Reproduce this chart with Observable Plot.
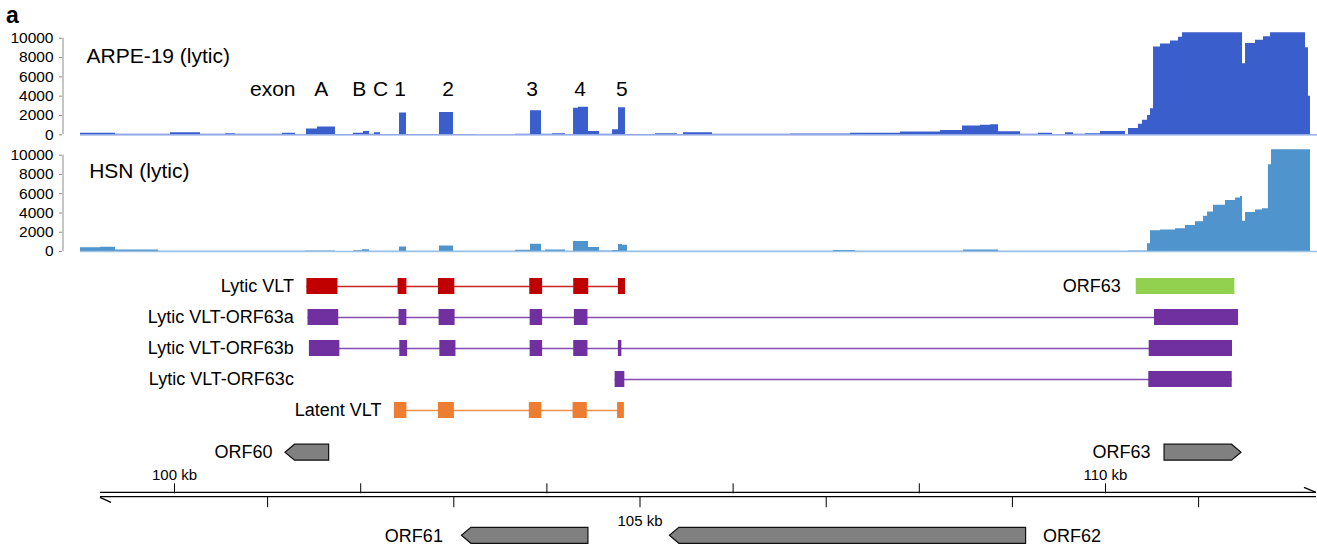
<!DOCTYPE html>
<html>
<head>
<meta charset="utf-8">
<script src="https://cdn.jsdelivr.net/npm/d3@7"></script>
<script src="https://cdn.jsdelivr.net/npm/@observablehq/plot@0.6"></script>
<style>
  body { margin: 0; background: #fff; }
  #root { position: relative; width: 1317px; height: 550px; overflow: hidden;
          font-family: "Liberation Sans", Arial, sans-serif; color: #000; }
  #root > svg, #root > div { position: absolute; left: 0; }
  #panel { top: 2px; left: 6px !important; font-size: 23px; font-weight: bold; line-height: 26px; z-index: 2; }
</style>
</head>
<body>
<div id="root"><div id="panel">a</div></div>
<script>
// ---------------- DATA ----------------
// genomic window shown (kb)
const viewKb = [98.797, 112.277];
const covMax = 10560;
const covTicks = [0, 2000, 4000, 6000, 8000, 10000];

// coverage, ARPE-19 (lytic): step starts (kb) and read depth
const arpePosKb = [98.990, 99.366, 99.957, 100.279, 100.548, 100.655, 101.160, 101.300, 101.418, 101.536,
  101.729, 101.923, 102.030, 102.095, 102.148, 102.213, 102.417, 102.492, 102.846, 102.997,
  103.233, 103.663, 103.824, 103.942, 104.060, 104.200, 104.286, 104.339, 104.447, 104.565,
  104.705, 104.769, 104.844, 105.166, 105.403, 105.467, 105.779, 106.617, 107.261, 107.798,
  108.228, 108.464, 108.657, 108.765, 108.851, 109.087, 109.280, 109.431, 109.570, 109.656,
  109.785, 109.946, 110.215, 110.247, 110.354, 110.397, 110.451, 110.483, 110.516, 110.591,
  110.698, 110.784, 110.827, 111.472, 111.504, 111.611, 111.697, 111.772, 112.148, 112.180, 112.202];
const arpeCov = [150, 60, 200, 60, 120, 50, 150, 10, 600, 820,
  30, 150, 330, 50, 220, 40, 2250, 20, 2300, 40,
  10, 60, 2500, 50, 100, 40, 2750, 2850, 350, 50,
  520, 2800, 40, 100, 40, 200, 50, 80, 170, 300,
  450, 920, 980, 1040, 320, 50, 150, 30, 200, 50,
  120, 350, 0, 650, 1100, 1500, 2000, 2700, 9100, 9400,
  9700, 10100, 10560, 7350, 9450, 9800, 10150, 10560, 9000, 4000, 0];

// coverage, HSN (lytic)
const hsnPosKb = [98.990, 99.205, 99.366, 99.828, 101.407, 101.729, 101.923, 102.020, 102.095, 102.417,
  102.492, 102.846, 102.997, 103.663, 103.824, 103.942, 103.985, 104.200, 104.286, 104.447,
  104.565, 104.705, 104.769, 104.812, 104.866, 107.078, 107.315, 108.475, 108.851, 110.247,
  110.451, 110.483, 110.591, 110.752, 110.859, 110.966, 111.053, 111.096, 111.160, 111.289,
  111.397, 111.450, 111.472, 111.504, 111.611, 111.686, 111.750, 111.783, 112.202];
const hsnCov = [380, 430, 150, 20, 40, 10, 80, 180, 20, 480,
  20, 560, 20, 120, 760, 60, 150, 30, 1050, 420,
  40, 100, 720, 650, 20, 100, 30, 150, 20, 60,
  800, 2150, 2230, 2350, 2700, 3100, 3650, 4100, 4800, 5300,
  5550, 5700, 3150, 4050, 4300, 4450, 9000, 10560, 0];

const exonLabels = ["exon", "A", "B", "C", "1", "2", "3", "4", "5"];
const exonLabelKb = [101.055, 101.577, 101.985, 102.213, 102.422, 102.938, 103.842, 104.356, 104.805];

const transcripts = ["Lytic VLT", "Lytic VLT-ORF63a", "Lytic VLT-ORF63b", "Lytic VLT-ORF63c", "Latent VLT"];
const exonStartKb = [
  [101.422, 102.401, 102.835, 103.816, 104.288, 104.768],
  [101.434, 102.412, 102.842, 103.820, 104.295, 110.526],
  [101.449, 102.420, 102.850, 103.820, 104.288, 104.768, 110.469],
  [104.733, 110.465],
  [102.362, 102.835, 103.811, 104.281, 104.759]
];
const exonEndKb = [
  [101.756, 102.496, 103.011, 103.954, 104.449, 104.844],
  [101.764, 102.496, 103.014, 103.954, 104.441, 111.429],
  [101.776, 102.504, 103.023, 103.954, 104.441, 104.805, 111.364],
  [104.837, 111.361],
  [102.496, 103.006, 103.946, 104.434, 104.832]
];
const transcriptLabelKb = [101.422, 101.422, 101.422, 101.422, 102.362];
const orf63CdsKb = [110.330, 111.389];

const genes = ["ORF60", "ORF61", "ORF62", "ORF63"];
const geneStartKb = [101.192, 103.087, 105.321, 110.634];
const geneEndKb = [101.661, 104.446, 109.147, 111.461];
const geneStrand = ["-", "-", "-", "+"];
const geneRow = [1, -1, -1, 1];

const rulerKb = [99.205, 112.266];
const rulerTicksUpper = [100, 102, 104, 106, 108, 110];
const rulerTicksLower = [101, 103, 105, 107, 109, 111];
const rulerLabels = [100, 105, 110];

// ---------------- STYLE ----------------
const W = 1317;
const FONT = "'Liberation Sans', Arial, sans-serif";
const transcriptColors = ["#c00000", "#7030a0", "#7030a0", "#7030a0", "#ed7d31"];
const base = {width: W, marginLeft: 62, marginRight: 0};
const svgStyle = {fontFamily: FONT, color: "#000", background: "transparent"};
const root = document.getElementById("root");
function place(svg, top) { svg.style.top = top + "px"; svg.style.position = "absolute"; root.appendChild(svg); }

// ---------------- COVERAGE ----------------
function covPlot({pos, cov, fill, line, title, tdx, tdy, height, mt, mb, extra = []}) {
  const data = pos.map((x, i) => ({x, y: cov[i]}));
  return Plot.plot({
    ...base, height, marginTop: mt, marginBottom: mb,
    style: svgStyle,
    x: {domain: viewKb, axis: null},
    y: {domain: [0, covMax], axis: null},
    marks: [
      Plot.areaY(data, {x: "x", y: "y", curve: "step-after", fill}),
      Plot.ruleY([0], {x1: pos[0], x2: viewKb[1], stroke: line, strokeWidth: 1.3}),
      Plot.ruleX([viewKb[0]], {y1: 0, y2: 10000, stroke: "#8c8c8c", dx: 0.5}),
      Plot.axisY({ticks: covTicks, tickSize: 3, tickPadding: 6, tickFormat: "d", fontSize: 15.5, stroke: "#8c8c8c", label: null}),
      Plot.text([title], {frameAnchor: "top-left", dx: tdx, dy: tdy, textAnchor: "start", lineAnchor: "middle", fontSize: 21}),
      ...extra
    ]
  });
}

place(covPlot({
  pos: arpePosKb, cov: arpeCov, fill: "#3a5fcd", line: "#7f9be3",
  title: "ARPE-19 (lytic)", tdx: 24, tdy: 23, height: 146, mt: 32.3, mb: 11.7,
  extra: [Plot.text(exonLabels, {x: (d, i) => exonLabelKb[i], frameAnchor: "top", dy: 56.5, lineAnchor: "middle", fontSize: 21})]
}), 0);

place(covPlot({
  pos: hsnPosKb, cov: hsnCov, fill: "#4f94cd", line: "#9cc2e6",
  title: "HSN (lytic)", tdx: 26.7, tdy: 21, height: 122, mt: 9.3, mb: 11
}), 140);

// ---------------- TRANSCRIPTS ----------------
const exons = transcripts.flatMap((t, i) => exonStartKb[i].map((s, j) => ({t, x1: s, x2: exonEndKb[i][j]})));
const spans = transcripts.map((t, i) => ({t, x1: d3.min(exonStartKb[i]), x2: d3.max(exonEndKb[i])}));

place(Plot.plot({
  ...base, height: 168, marginTop: 0, marginBottom: 0,
  style: svgStyle,
  x: {domain: viewKb, axis: null},
  y: {type: "band", domain: transcripts, range: [15.7, 157], paddingInner: 0.47, paddingOuter: 0, axis: null},
  color: {domain: transcripts, range: transcriptColors},
  marks: [
    Plot.ruleY(spans, {x1: "x1", x2: "x2", y: "t", stroke: "t", strokeWidth: 1.3, strokeOpacity: 0.85}),
    Plot.barX(exons, {x1: "x1", x2: "x2", y: "t", fill: "t"}),
    Plot.barX([orf63CdsKb], {x1: d => d[0], x2: d => d[1], y: () => transcripts[0], fill: "#92d050"}),
    Plot.text(transcripts, {x: (d, i) => transcriptLabelKb[i], y: d => d, dx: -13, textAnchor: "end", lineAnchor: "middle", fontSize: 18}),
    Plot.text(["ORF63"], {x: () => orf63CdsKb[0], y: () => transcripts[0], dx: -15.5, textAnchor: "end", lineAnchor: "middle", fontSize: 18})
  ]
}), 262);

// ---------------- GENES + RULER ----------------
const geneData = genes.map((g, i) => ({g, start: geneStartKb[i], end: geneEndKb[i], strand: geneStrand[i], row: geneRow[i]}));
const labelDx = {ORF60: -13, ORF61: -19, ORF62: 17, ORF63: -14};
const kbFmt = d => rulerLabels.includes(d) ? `${d} kb` : "";

function rulerMark(index, scales, values, dims) {
  const g = d3.create("svg:g").attr("stroke", "#000").attr("fill", "none").attr("stroke-width", 1.3);
  const x1 = scales.x(rulerKb[0]), x2 = scales.x(rulerKb[1]);
  const yt = dims.marginTop, yb = dims.height - dims.marginBottom;
  g.append("line").attr("x1", x1).attr("x2", x2).attr("y1", yt).attr("y2", yt);
  g.append("line").attr("x1", x1).attr("x2", x2).attr("y1", yb).attr("y2", yb);
  g.append("line").attr("x1", x1).attr("y1", yb + 0.6).attr("x2", x1 + 11).attr("y2", yb + 5.6);
  g.append("line").attr("x1", x2 - 12).attr("y1", yt - 5).attr("x2", x2).attr("y2", yt);
  return g.node();
}
function geneArrows(index, scales, values, dims) {
  const g = d3.create("svg:g");
  for (const d of geneData) {
    const xs = scales.x(d.start), xe = scales.x(d.end), yc = scales.y(d.row);
    const h = 8, head = 9.5;
    const pts = d.strand === "-"
      ? [[xe, yc - h], [xs + head, yc - h], [xs, yc], [xs + head, yc + h], [xe, yc + h]]
      : [[xs, yc - h], [xe - head, yc - h], [xe, yc], [xe - head, yc + h], [xs, yc + h]];
    g.append("polygon").attr("points", pts.map(p => p.join(",")).join(" "))
      .attr("fill", "#808080").attr("stroke", "#111").attr("stroke-width", 1.2);
  }
  return g.node();
}

place(Plot.plot({
  ...base, height: 120, marginTop: 62.3, marginBottom: 53.3,
  style: svgStyle,
  x: {domain: viewKb, axis: null},
  y: {domain: [-1, 1], range: [105.3, 22.2], axis: null},
  marks: [
    Plot.axisX({anchor: "top", ticks: rulerTicksUpper, tickSize: 10, tickPadding: 3, tickFormat: kbFmt, fontSize: 15, label: null}),
    Plot.axisX({anchor: "bottom", ticks: rulerTicksLower, tickSize: 10.5, tickPadding: 8, tickFormat: kbFmt, fontSize: 15, label: null}),
    rulerMark,
    geneArrows,
    ...geneData.map(d => Plot.text([d], {
      x: labelDx[d.g] < 0 ? "start" : "end", y: "row", text: "g",
      dx: labelDx[d.g], textAnchor: labelDx[d.g] < 0 ? "end" : "start", lineAnchor: "middle", fontSize: 18
    }))
  ]
}), 430);
</script>
</body>
</html>
